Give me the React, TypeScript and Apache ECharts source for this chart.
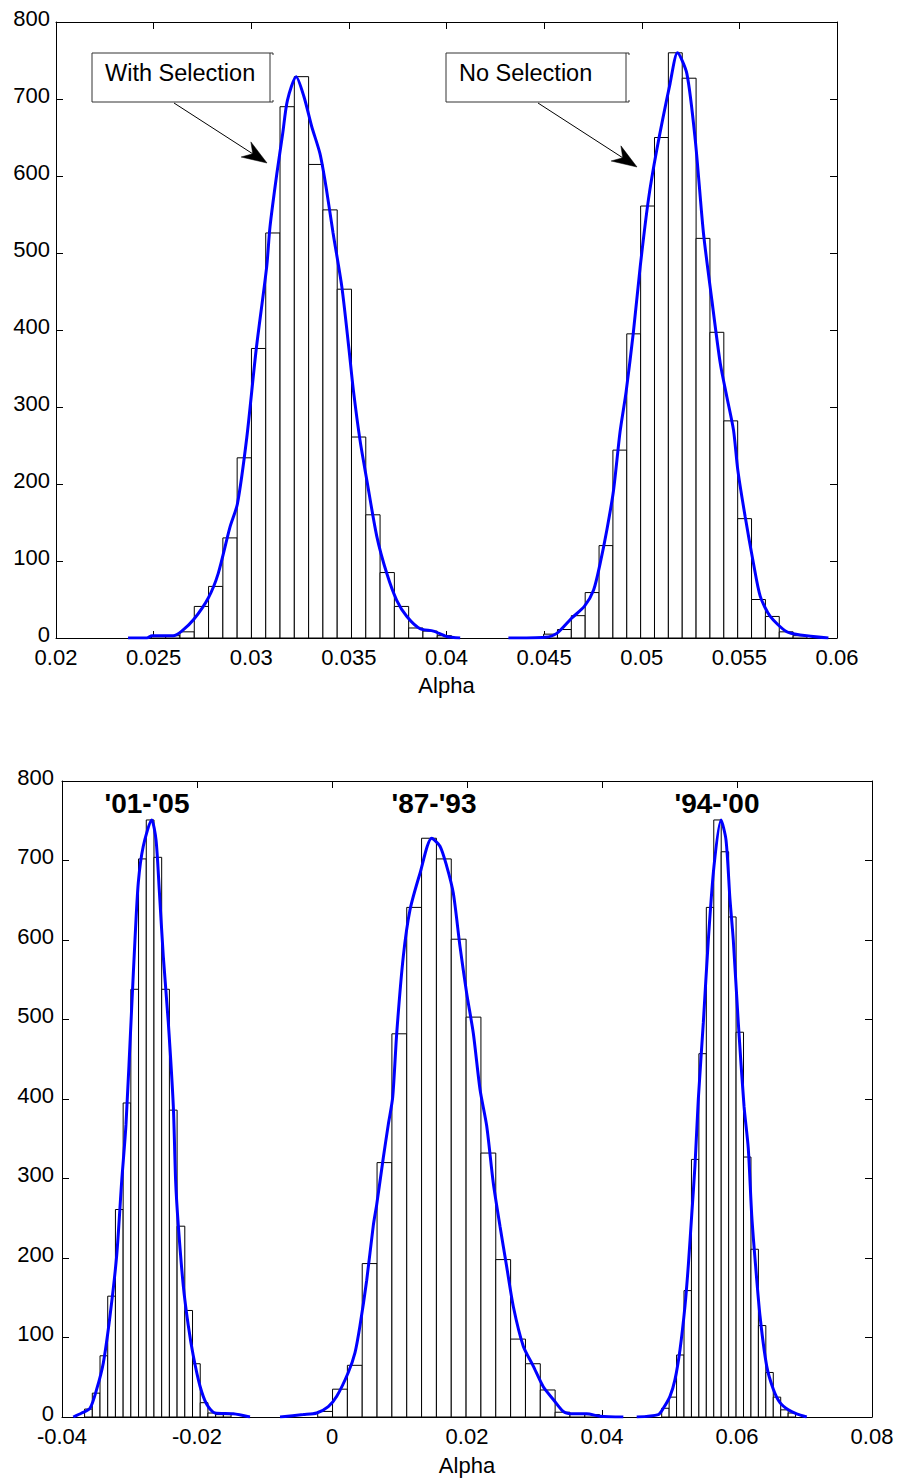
import React, { useEffect, useRef } from "react";
import * as echarts from "echarts";

// ---------- Top panel: histograms (bin start, bin width, counts) ----------
const withSelStart = 0.024886;
const withSelWidth = 0.000732;
const withSelCounts = [3, 3, 8, 41, 67, 130, 234, 376, 526, 690, 729, 615, 556, 453, 261, 160, 85, 41, 13, 9, 3];

const noSelStart = 0.044973;
const noSelWidth = 0.00071;
const noSelCounts = [5, 11, 29, 59, 120, 244, 395, 561, 650, 760, 727, 519, 397, 282, 155, 50, 28, 8, 3];

// Top panel density curves
const withSelCurveX = [0.02369, 0.02465, 0.02492, 0.026, 0.02644, 0.02705, 0.0278, 0.02831, 0.02891, 0.02929, 0.02977, 0.03025, 0.03079, 0.03096, 0.03131, 0.03161, 0.03185, 0.0323, 0.0327, 0.0331, 0.03352, 0.03383, 0.03419, 0.03464, 0.03501, 0.03523, 0.03557, 0.03592, 0.03643, 0.03694, 0.03745, 0.03797, 0.03865, 0.03933, 0.04001, 0.0407];
const withSelCurveY = [0, 0, 3, 3, 9, 24, 52, 84, 144, 174, 260, 374, 482, 534, 603, 655, 698, 729, 703, 664, 629, 586, 526, 456, 374, 322, 257, 205, 132, 84, 49, 28, 12, 9, 2, 0];

const noSelCurveX = [0.04317, 0.04505, 0.04565, 0.04642, 0.04706, 0.04753, 0.04787, 0.04821, 0.04855, 0.04889, 0.0492, 0.04957, 0.04992, 0.05034, 0.05077, 0.05145, 0.05183, 0.05231, 0.05274, 0.05316, 0.05359, 0.05402, 0.05436, 0.0547, 0.05492, 0.0553, 0.05572, 0.05607, 0.05658, 0.05743, 0.05811, 0.05956];
const noSelCurveY = [0, 1, 6, 26, 41, 62, 97, 140, 191, 268, 320, 397, 482, 569, 634, 720, 760, 733, 647, 526, 439, 357, 313, 270, 218, 157, 97, 54, 28, 8, 4, 0];

// ---------- Bottom panel: histograms ----------
const p0105Start = -0.036652;
const p0105Width = 0.001142;
const p0105Counts = [10, 30, 77, 152, 261, 395, 538, 702, 751, 704, 538, 386, 240, 134, 67, 18, 5, 3, 3];

const p8793Start = -0.002119;
const p8793Width = 0.0021985;
const p8793Counts = [7, 35, 65, 193, 320, 482, 641, 728, 702, 601, 503, 332, 198, 98, 67, 34, 6, 4, 3];

const p9400Start = 0.048844;
const p9400Width = 0.001102;
const p9400Counts = [11, 25, 78, 159, 324, 457, 641, 751, 711, 629, 484, 327, 211, 115, 56, 25, 9, 5];

// Bottom panel density curves
const c0105X = [-0.03833, -0.03708, -0.03585, -0.03486, -0.03388, -0.03289, -0.0319, -0.03116, -0.03052, -0.02967, -0.02919, -0.0287, -0.02796, -0.02671, -0.02607, -0.02559, -0.02499, -0.02425, -0.02351, -0.02316, -0.02277, -0.02203, -0.02129, -0.02055, -0.01956, -0.01856, -0.01733, -0.01462, -0.01215];
const c0105Y = [0, 5, 11, 35, 68, 127, 203, 296, 368, 516, 600, 672, 718, 751, 726, 663, 579, 496, 391, 296, 241, 165, 115, 77, 39, 16, 5, 4, 0];

const c8793X = [-0.0077, -0.00425, -0.00227, -0.00055, 0.0007, 0.00241, 0.00341, 0.00415, 0.00514, 0.00612, 0.00662, 0.0076, 0.00834, 0.00899, 0.00959, 0.01056, 0.01156, 0.01304, 0.01477, 0.016, 0.01699, 0.01797, 0.01896, 0.01995, 0.02093, 0.02193, 0.02292, 0.0239, 0.02489, 0.02588, 0.02686, 0.02834, 0.02982, 0.0313, 0.03279, 0.03427, 0.03575, 0.03773, 0.0397, 0.04316];
const c8793Y = [0, 3, 5, 13, 26, 56, 81, 115, 172, 241, 267, 326, 368, 402, 483, 579, 638, 684, 728, 718, 693, 659, 592, 533, 483, 412, 366, 294, 240, 189, 139, 89, 64, 38, 22, 7, 4, 4, 1, 0];

const c9400X = [0.04514, 0.04834, 0.04908, 0.05007, 0.05081, 0.05156, 0.0523, 0.05279, 0.05329, 0.05378, 0.05427, 0.05501, 0.05575, 0.05659, 0.05763, 0.05837, 0.05896, 0.05945, 0.06019, 0.06104, 0.06167, 0.06218, 0.06267, 0.06341, 0.0644, 0.06538, 0.06637, 0.0676, 0.06884, 0.07033];
const c9400Y = [0, 3, 11, 26, 47, 85, 140, 191, 254, 317, 400, 496, 600, 693, 751, 726, 651, 600, 496, 391, 338, 254, 199, 127, 64, 35, 18, 9, 4, 0];

// Axis ranges / labels
const topXRange = { min: 0.02, max: 0.06, interval: 0.005 };
const botXRange = { min: -0.04, max: 0.08, interval: 0.02 };
const yRange = { min: 0, max: 800, interval: 100 };
const xAxisName = "Alpha";
const topAnnotations = ["With Selection", "No Selection"];
const periodLabels = ["'01-'05", "'87-'93", "'94-'00"];

const FONT = '"Liberation Sans", Arial, Helvetica, sans-serif';

function fmt(v: number) {
  return String(parseFloat(v.toFixed(4)));
}

function histData(start: number, width: number, counts: number[]) {
  return counts.map((c, i) => [start + i * width, start + (i + 1) * width, c]);
}

function curveData(xs: number[], ys: number[]) {
  return xs.map((x, i) => [x, ys[i]]);
}

function histSeries(data: number[][], axisIdx: number) {
  return {
    type: "custom",
    xAxisIndex: axisIdx,
    yAxisIndex: axisIdx,
    z: 2,
    silent: true,
    encode: { x: [0, 1], y: 2 },
    data,
    renderItem: (_params: any, api: any) => {
      const a = api.coord([api.value(0), api.value(2)]);
      const b = api.coord([api.value(1), 0]);
      return {
        type: "rect",
        shape: { x: a[0], y: a[1], width: b[0] - a[0], height: b[1] - a[1] },
        style: { fill: "#ffffff", stroke: "#000000", lineWidth: 1 },
      };
    },
  };
}

function lineSeries(data: number[][], axisIdx: number) {
  return {
    type: "line",
    xAxisIndex: axisIdx,
    yAxisIndex: axisIdx,
    z: 5,
    data,
    smooth: 0.25,
    showSymbol: false,
    symbol: "none",
    silent: true,
    lineStyle: { color: "#0000ff", width: 3 },
  };
}

function xAxisDef(gridIndex: number, range: any, position: string, withLabels: boolean, nameGap: number) {
  return {
    type: "value",
    gridIndex,
    position,
    min: range.min,
    max: range.max,
    interval: range.interval,
    name: withLabels ? xAxisName : "",
    nameLocation: "middle",
    nameGap,
    nameTextStyle: { fontSize: 22, color: "#000", fontFamily: FONT },
    axisLine: { show: true, onZero: false, lineStyle: { color: "#000", width: 1 } },
    axisTick: { show: true, inside: true, length: 7, lineStyle: { color: "#000", width: 1 } },
    axisLabel: { show: withLabels, fontSize: 22, lineHeight: 16, color: "#000", margin: 11, fontFamily: FONT, formatter: fmt },
    splitLine: { show: false },
  };
}

function yAxisDef(gridIndex: number, position: string, withLabels: boolean, margin: number) {
  return {
    type: "value",
    gridIndex,
    position,
    min: yRange.min,
    max: yRange.max,
    interval: yRange.interval,
    axisLine: { show: true, onZero: false, lineStyle: { color: "#000", width: 1 } },
    axisTick: { show: true, inside: true, length: 7, lineStyle: { color: "#000", width: 1 } },
    axisLabel: { show: withLabels, fontSize: 22, lineHeight: 8, verticalAlign: "bottom", color: "#000", margin, fontFamily: FONT },
    splitLine: { show: false },
  };
}

function arrow(x1: number, y1: number, x2: number, y2: number) {
  const dx = x2 - x1;
  const dy = y2 - y1;
  const L = Math.sqrt(dx * dx + dy * dy);
  const ux = dx / L;
  const uy = dy / L;
  const nx = -uy;
  const ny = ux;
  const len = 25;
  const half = 9;
  const notch = 17;
  return [
    {
      type: "line",
      silent: true,
      shape: { x1, y1, x2: x2 - ux * notch, y2: y2 - uy * notch },
      style: { stroke: "#000", lineWidth: 1 },
      z: 10,
    },
    {
      type: "polygon",
      silent: true,
      shape: {
        points: [
          [x2, y2],
          [x2 - ux * len + nx * half, y2 - uy * len + ny * half],
          [x2 - ux * notch, y2 - uy * notch],
          [x2 - ux * len - nx * half, y2 - uy * len - ny * half],
        ],
      },
      style: { fill: "#000", stroke: "#000", lineWidth: 0.5 },
      z: 10,
    },
  ];
}

function annotationBox(x: number, y: number, w: number, h: number, text: string, tx: number, ty: number) {
  return [
    {
      type: "rect",
      silent: true,
      shape: { x, y, width: w, height: h },
      style: { fill: "#fff", stroke: "#333", lineWidth: 1 },
      z: 10,
    },
    {
      type: "polyline",
      silent: true,
      shape: { points: [[x + w, y], [x + w + 3, y], [x + w + 3, y + 2]] },
      style: { stroke: "#333", lineWidth: 1, fill: "none" },
      z: 10,
    },
    {
      type: "polyline",
      silent: true,
      shape: { points: [[x + w, y + h], [x + w + 3, y + h], [x + w + 3, y + h - 2]] },
      style: { stroke: "#333", lineWidth: 1, fill: "none" },
      z: 10,
    },
    {
      type: "text",
      silent: true,
      x: tx,
      y: ty,
      style: { text, fontSize: 23.5, fontFamily: FONT, fill: "#000", textAlign: "left", textVerticalAlign: "middle" },
      z: 11,
    },
  ];
}

function periodLabel(text: string, cx: number, cy: number) {
  return {
    type: "text",
    silent: true,
    x: cx,
    y: cy,
    style: { text, fontSize: 28, fontWeight: "bold", fontFamily: FONT, fill: "#000", textAlign: "center", textVerticalAlign: "middle" },
    z: 11,
  };
}

export default function App() {
  const ref = useRef<HTMLDivElement>(null);

  useEffect(() => {
    if (!ref.current) return;
    const chart = echarts.init(ref.current, null, { renderer: "svg" });
    const option: any = {
      animation: false,
      backgroundColor: "#ffffff",
      textStyle: { fontFamily: FONT },
      grid: [
        { left: 56, top: 22, width: 781, height: 616 },
        { left: 62, top: 781, width: 810, height: 636 },
      ],
      xAxis: [
        xAxisDef(0, topXRange, "bottom", true, 36),
        xAxisDef(0, topXRange, "top", false, 0),
        xAxisDef(1, botXRange, "bottom", true, 37),
        xAxisDef(1, botXRange, "top", false, 0),
      ],
      yAxis: [
        yAxisDef(0, "left", true, 6),
        yAxisDef(0, "right", false, 6),
        yAxisDef(1, "left", true, 8),
        yAxisDef(1, "right", false, 8),
      ],
      series: [
        histSeries(histData(withSelStart, withSelWidth, withSelCounts), 0),
        histSeries(histData(noSelStart, noSelWidth, noSelCounts), 0),
        lineSeries(curveData(withSelCurveX, withSelCurveY), 0),
        lineSeries(curveData(noSelCurveX, noSelCurveY), 0),
        histSeries(histData(p0105Start, p0105Width, p0105Counts), 2),
        histSeries(histData(p8793Start, p8793Width, p8793Counts), 2),
        histSeries(histData(p9400Start, p9400Width, p9400Counts), 2),
        lineSeries(curveData(c0105X, c0105Y), 2),
        lineSeries(curveData(c8793X, c8793Y), 2),
        lineSeries(curveData(c9400X, c9400Y), 2),
      ],
      graphic: [
        ...annotationBox(92, 53, 178, 49, topAnnotations[0], 105, 73),
        ...annotationBox(446, 53, 180, 49, topAnnotations[1], 459, 73),
        ...arrow(174, 103, 267, 163),
        ...arrow(538, 103, 637, 167),
        periodLabel(periodLabels[0], 147, 803),
        periodLabel(periodLabels[1], 434, 803),
        periodLabel(periodLabels[2], 717, 803),
      ],
    };
    chart.setOption(option);
    return () => chart.dispose();
  }, []);

  return (
    <div
      ref={ref}
      style={{ position: "absolute", left: 0, top: 0, width: 898, height: 1479, background: "#fff" }}
    />
  );
}
